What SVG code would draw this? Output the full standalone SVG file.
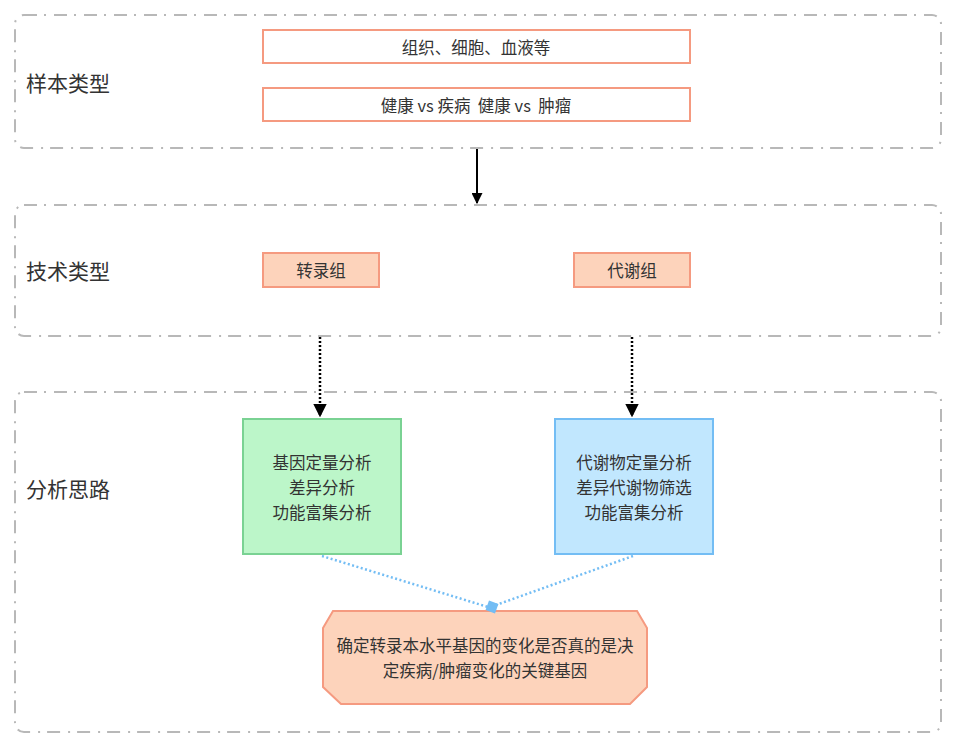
<svg xmlns="http://www.w3.org/2000/svg" width="957" height="747" viewBox="0 0 957 747">
<defs>
<style>
text{font-family:"Noto Sans CJK SC","Noto Sans",sans-serif;fill:#333;text-anchor:middle;dominant-baseline:central}
.lane{fill:none;stroke:#b8b8b8;stroke-width:2;stroke-dasharray:13 7 2 8}
.lbl{font-size:21px;text-anchor:start}
.t{font-size:16.5px}
.wbox{fill:#fff;stroke:#f59a80;stroke-width:2}
.obox{fill:#fdd3bb;stroke:#f59a80;stroke-width:2}
</style>
<marker id="ah" viewBox="0 0 10 10" refX="9" refY="5" markerWidth="5.5" markerHeight="5.5" orient="auto"><path d="M0,0L10,5L0,10z" fill="#000"/></marker>
</defs>
<rect width="957" height="747" fill="#fff"/>
<g id="lane1"><rect class="lane" x="15" y="15" width="926" height="133" rx="9"/><text class="lbl" x="26" y="82">样本类型</text></g>
<g id="lane2"><rect class="lane" x="15" y="205" width="926" height="131" rx="9"/><text class="lbl" x="26" y="270">技术类型</text></g>
<g id="lane3"><rect class="lane" x="15" y="392" width="926" height="340" rx="9"/><text class="lbl" x="26" y="488">分析思路</text></g>
<g id="n1"><rect class="wbox" x="263" y="30" width="427" height="33"/><text class="t" x="476" y="47">组织、细胞、血液等</text></g>
<g id="n2"><rect class="wbox" x="263" y="88" width="427" height="33"/><text class="t" x="476" y="105" xml:space="preserve" style="white-space:pre">健康 vs 疾病  健康 vs  肿瘤</text></g>
<g id="n3"><rect class="obox" x="263" y="253" width="116" height="34"/><text class="t" x="321" y="270">转录组</text></g>
<g id="n4"><rect class="obox" x="574" y="253" width="116" height="34"/><text class="t" x="632" y="270">代谢组</text></g>
<g id="n5"><rect x="243" y="419" width="158" height="135" fill="#bcf6c9" stroke="#7ad293" stroke-width="2"/><text class="t" x="322" y="462">基因定量分析</text><text class="t" x="322" y="487">差异分析</text><text class="t" x="322" y="512">功能富集分析</text></g>
<g id="n6"><rect x="555" y="419" width="158" height="135" fill="#c1e7fe" stroke="#73bdf4" stroke-width="2"/><text class="t" x="634" y="462">代谢物定量分析</text><text class="t" x="634" y="487">差异代谢物筛选</text><text class="t" x="634" y="512">功能富集分析</text></g>
<g id="n7"><polygon class="obox" points="333,611 637,611 647,628 647,687 630,704 341,704 323,687 323,628"/><text class="t" x="485" y="645">确定转录本水平基因的变化是否真的是决</text><text class="t" x="485" y="670">定疾病/肿瘤变化的关键基因</text></g>
<g id="connectors">
<line x1="477" y1="149" x2="477" y2="203" stroke="#000" stroke-width="2" marker-end="url(#ah)"/>
<line x1="320" y1="337" x2="320" y2="416" stroke="#000" stroke-width="2.5" stroke-dasharray="2 2" marker-end="url(#ah)"/>
<line x1="632" y1="337" x2="632" y2="416" stroke="#000" stroke-width="2.5" stroke-dasharray="2 2" marker-end="url(#ah)"/>
<line x1="322" y1="556" x2="488" y2="607" stroke="#73bdf4" stroke-width="2.5" stroke-dasharray="2 2.5"/>
<line x1="633" y1="556" x2="496" y2="605" stroke="#73bdf4" stroke-width="2.5" stroke-dasharray="2 2.5"/>
<rect x="-5" y="-5" width="10" height="10" fill="#73bdf4" transform="translate(492,607) rotate(-70)"/>
</g>
</svg>
